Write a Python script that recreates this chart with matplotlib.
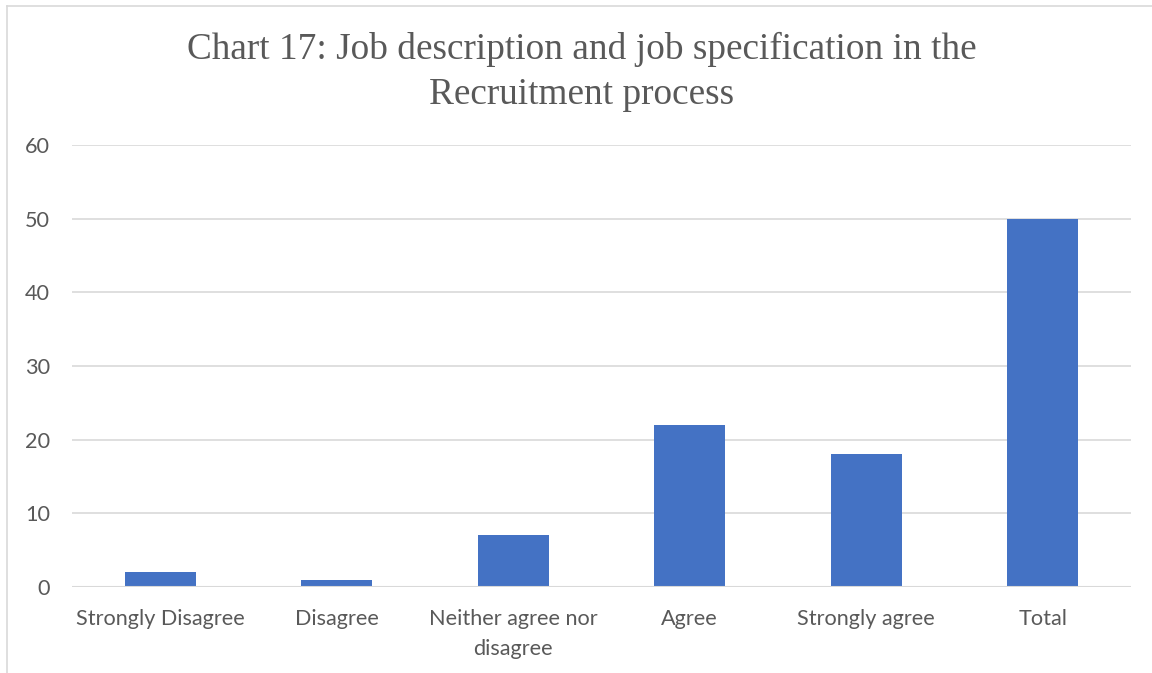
import matplotlib
matplotlib.use("Agg")
import matplotlib.pyplot as plt
from matplotlib.lines import Line2D

categories = ["Strongly Disagree", "Disagree", "Neither agree nor\ndisagree",
              "Agree", "Strongly agree", "Total"]
values = [2, 1, 7, 22, 18, 50]
y_ticks = [0, 10, 20, 30, 40, 50, 60]

W, H = 1152, 673
fig = plt.figure(figsize=(W / 100, H / 100), dpi=100)
ax = fig.add_axes([72 / W, 1 - 587 / H, (1131 - 72) / W, (587 - 145) / H])

ax.bar(range(len(categories)), values, width=0.4, color="#4472C4", zorder=3)
ax.set_xlim(-0.5, len(categories) - 0.5)
ax.set_ylim(0, 60)
ax.set_yticks(y_ticks)
ax.set_xticks(range(len(categories)))
ax.set_xticklabels(categories, family="Lato", fontsize=15.6, color="#595959",
                   linespacing=1.6)
for lab in ax.get_yticklabels():
    lab.set_family("Lato")
    lab.set_fontsize(15.6)
    lab.set_color("#595959")
ax.tick_params(length=0)
ax.tick_params(axis="y", pad=16)
ax.tick_params(axis="x", pad=16)
ax.grid(axis="y", color="#D9D9D9", linewidth=1.2, zorder=0)
for s in ax.spines.values():
    s.set_visible(False)
ax.axhline(0, color="#D9D9D9", linewidth=1.5, zorder=4)

fig.text(582 / W, 1 - 72 / H, "Chart 17: Job description and job specification in the\nRecruitment process",
         ha="center", va="center", family="Liberation Serif", fontsize=26.8,
         color="#595959", linespacing=1.38)

# chart frame
fig.add_artist(Line2D([7 / W, 1.0], [1 - 6 / H, 1 - 6 / H], color="#D9D9D9", linewidth=1.2))
fig.add_artist(Line2D([7 / W, 7 / W], [0, 1 - 6 / H], color="#D9D9D9", linewidth=1.2))

fig.savefig("out.png", dpi=100)
